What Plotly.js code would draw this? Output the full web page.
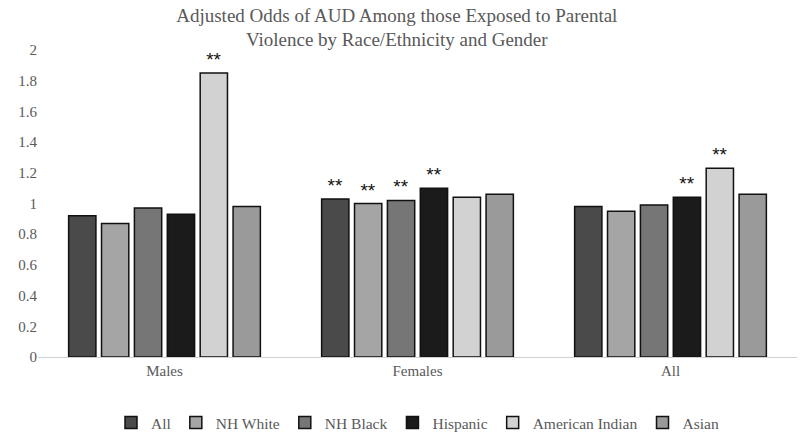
<!DOCTYPE html>
<html>
<head>
<meta charset="utf-8">
<script src="https://cdn.plot.ly/plotly-3.0.1.min.js"></script>
<style>html,body{margin:0;padding:0;background:#fff;}#chart{width:800px;height:433px;}</style>
</head>
<body>
<div id="chart"></div>
<script>
const categories = ['Males', 'Females', 'All'];
const seriesNames = ['All', 'NH White', 'NH Black', 'Hispanic', 'American Indian', 'Asian'];
const valAll      = [0.92, 1.03, 0.98];
const valNHWhite  = [0.87, 1.00, 0.95];
const valNHBlack  = [0.97, 1.02, 0.99];
const valHispanic = [0.93, 1.10, 1.04];
const valAmInd    = [1.85, 1.04, 1.23];
const valAsian    = [0.98, 1.06, 1.06];
const sigAll      = ['', '**', ''];
const sigNHWhite  = ['', '**', ''];
const sigNHBlack  = ['', '**', ''];
const sigHispanic = ['', '**', '**'];
const sigAmInd    = ['**', '', '**'];
const sigAsian    = ['', '', ''];
const yTicks = [0, 0.2, 0.4, 0.6, 0.8, 1, 1.2, 1.4, 1.6, 1.8, 2];

const values = [valAll, valNHWhite, valNHBlack, valHispanic, valAmInd, valAsian];
const sigs = [sigAll, sigNHWhite, sigNHBlack, sigHispanic, sigAmInd, sigAsian];
const colors = ['#4a4a4a', '#a5a5a5', '#767676', '#1b1b1b', '#d2d2d2', '#9a9a9a'];

const traces = seriesNames.map((n, i) => ({
  type: 'bar', name: n, x: categories, y: values[i],
  text: sigs[i], textposition: 'outside', cliponaxis: false,
  textfont: {family: 'Liberation Sans, Arial, sans-serif', size: 19, color: '#111'},
  marker: {color: colors[i], line: {color: '#111', width: 1.5}},
  hoverinfo: 'x+y+name'
}));

const layout = {
  width: 800, height: 433,
  margin: {l: 38, r: 3, t: 50, b: 76},
  paper_bgcolor: '#fff', plot_bgcolor: '#fff',
  font: {family: 'Liberation Serif, Times New Roman, serif', size: 15, color: '#595959'},
  title: {text: 'Adjusted Odds of AUD Among those Exposed to Parental<br>Violence by Race/Ethnicity and Gender',
          x: 0.496, xanchor: 'center', xref: 'container', yref: 'container', y: 0.95, yanchor: 'middle',
          automargin: false,
          font: {family: 'Liberation Serif, Times New Roman, serif', size: 19, color: '#595959'}},
  barmode: 'group', bargap: 0.22, bargroupgap: 0.17,
  xaxis: {type: 'category', showline: true, linecolor: '#d0d0d0', linewidth: 1, ticks: '',
          tickfont: {size: 15, color: '#595959'}, showgrid: false},
  yaxis: {range: [0, 2], tickvals: yTicks, showgrid: false, zeroline: false, showline: false,
          ticks: '', tickfont: {size: 15, color: '#595959'}},
  showlegend: true,
  legend: {orientation: 'h', x: 0.5, xanchor: 'center', xref: 'paper', yref: 'container', y: 0.023, yanchor: 'middle',
           font: {size: 15.5, color: '#595959'}, traceorder: 'normal', itemwidth: 30}
};

Plotly.newPlot('chart', traces, layout, {displayModeBar: false});
</script>
</body>
</html>
